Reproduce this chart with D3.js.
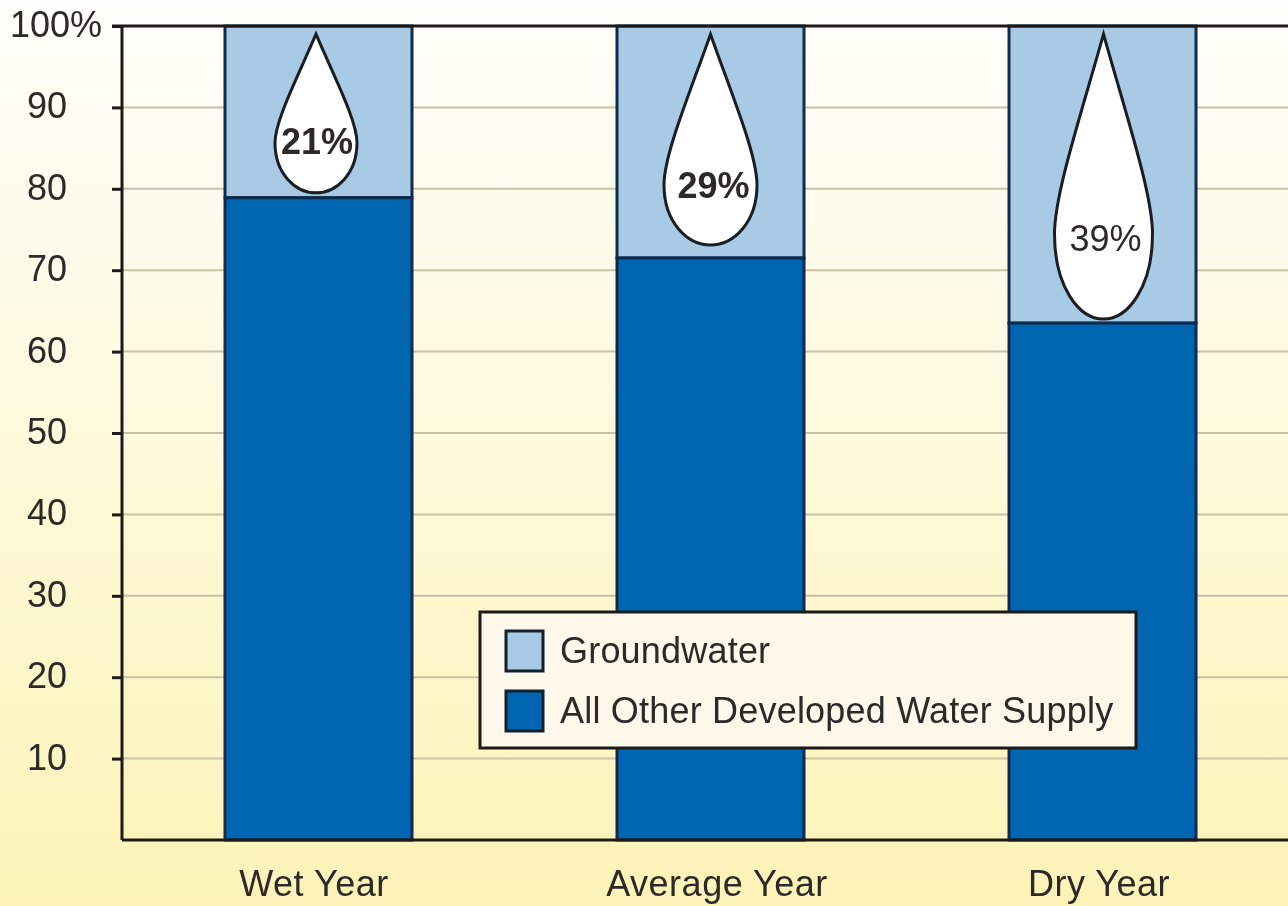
<!DOCTYPE html>
<html>
<head>
<meta charset="utf-8">
<script src="https://cdn.jsdelivr.net/npm/d3@7/dist/d3.min.js"></script>
<style>
html,body{margin:0;padding:0;background:#fdf5c4;overflow:hidden}
svg{display:block;filter:blur(0.7px)}
text{font-family:"Liberation Sans",Arial,sans-serif;font-size:36px;fill:#2b2a26}
</style>
</head>
<body>
<svg id="c" width="1288" height="906"></svg>
<script>
const categories = ["Wet Year", "Average Year", "Dry Year"];
const otherSupply = [78.9, 71.5, 63.5];
const groundwater = [21.1, 28.5, 36.5];
const dropLabels = ["21%", "29%", "39%"];
const yTicks = [10, 20, 30, 40, 50, 60, 70, 80, 90, 100];
const legendLabels = ["Groundwater", "All Other Developed Water Supply"];
const colors = ["#a9cae5", "#0066b1"];

const W = 1288, H = 906;
const svg = d3.select("#c");
const defs = svg.append("defs");
const grad = defs.append("linearGradient").attr("id", "bg").attr("x1", 0).attr("y1", 0).attr("x2", 0).attr("y2", 1);
[["0%", "#fffefa"], ["35%", "#fffbe6"], ["70%", "#fdf6cb"], ["100%", "#fdf3b8"]]
  .forEach(s => grad.append("stop").attr("offset", s[0]).attr("stop-color", s[1]));
svg.append("rect").attr("width", W).attr("height", H).attr("fill", "url(#bg)");

const y = d3.scaleLinear().domain([0, 100]).range([840, 26]);
const x = d3.scaleBand().domain(categories).range([225, 1196]).paddingInner(0.523).paddingOuter(0);

// gridlines
svg.append("g").selectAll("line").data(yTicks.slice(0, -1)).join("line")
  .attr("x1", 122).attr("x2", W).attr("y1", d => y(d)).attr("y2", d => y(d))
  .attr("stroke", "#c8c2a4").attr("stroke-width", 2);

// stacked bars
const barStroke = "#0d2c4d";
const bars = svg.append("g").selectAll("g").data(categories).join("g");
bars.append("rect").attr("x", d => x(d)).attr("width", x.bandwidth())
  .attr("y", (d, i) => y(otherSupply[i] + groundwater[i]))
  .attr("height", (d, i) => y(otherSupply[i]) - y(otherSupply[i] + groundwater[i]))
  .attr("fill", colors[0]).attr("stroke", barStroke).attr("stroke-width", 3);
bars.append("rect").attr("x", d => x(d)).attr("width", x.bandwidth())
  .attr("y", (d, i) => y(otherSupply[i]))
  .attr("height", (d, i) => y(0) - y(otherSupply[i]))
  .attr("fill", colors[1]).attr("stroke", barStroke).attr("stroke-width", 3);

// water drops: nearly straight sides from the tip, round belly at the base
function dropPath(cx, top, bottom, hw, belly) {
  const wy = bottom - belly;
  const s = wy - top;
  return `M${cx},${top}` +
    `C${cx - hw * 0.48},${top + s * 0.42} ${cx - hw},${wy - s * 0.2} ${cx - hw},${wy}` +
    `C${cx - hw},${wy + belly * 0.62} ${cx - hw * 0.5},${bottom} ${cx},${bottom}` +
    `C${cx + hw * 0.5},${bottom} ${cx + hw},${wy + belly * 0.62} ${cx + hw},${wy}` +
    `C${cx + hw},${wy - s * 0.2} ${cx + hw * 0.48},${top + s * 0.42} ${cx},${top}Z`;
}
const dropWidths = [41, 46.5, 49];
const dropNudge = [-2.5, 0, 1];
const dropGap = [5, 13, 4];
const dropBelly = [50, 60, 85];
const dropTextDx = [1, 3, 2];
const dropTextUp = [51, 60, 81];
const dropWeights = [700, 700, 400];
const drops = svg.append("g").selectAll("g").data(categories).join("g");
const cx = (d, i) => x(d) + x.bandwidth() / 2 + dropNudge[i];
const base = i => y(otherSupply[i]) - dropGap[i];
drops.append("path")
  .attr("d", (d, i) => dropPath(cx(d, i), y(99), base(i), dropWidths[i], dropBelly[i]))
  .attr("fill", "#fff").attr("stroke", "#1a1d22").attr("stroke-width", 3).attr("stroke-linejoin", "miter");
drops.append("text")
  .attr("x", (d, i) => cx(d, i) + dropTextDx[i])
  .attr("y", (d, i) => base(i) - dropTextUp[i])
  .attr("dy", "0.35em").attr("text-anchor", "middle")
  .style("font-size", "36px").style("font-weight", (d, i) => dropWeights[i])
  .text((d, i) => dropLabels[i]);

// axes
const yAxis = d3.axisLeft(y).tickValues(yTicks).tickSize(10).tickPadding(0)
  .tickFormat(d => d === 100 ? "100%" : d);
const gy = svg.append("g").attr("transform", "translate(122,0)").call(yAxis);
gy.select(".domain").remove();
gy.selectAll("line").attr("stroke", "#1c1b18").attr("stroke-width", 3);
gy.selectAll("text")
  .attr("x", d => d === 100 ? -20 : -55)
  .attr("dy", "0.29em")
  .style("font-size", "36px").style("font-family", '"Liberation Sans",Arial,sans-serif').attr("fill", "#2b2a26");

svg.append("line").attr("x1", 122).attr("x2", 122).attr("y1", y(100)).attr("y2", y(0)).attr("stroke", "#1c1b18").attr("stroke-width", 3);
svg.append("line").attr("x1", 112).attr("x2", W).attr("y1", y(100)).attr("y2", y(100)).attr("stroke", "#1c1b18").attr("stroke-width", 3);
svg.append("line").attr("x1", 122).attr("x2", W).attr("y1", y(0)).attr("y2", y(0)).attr("stroke", "#1c1b18").attr("stroke-width", 3);

// category labels
const labelNudge = [-4.5, 6.5, -3.5];
svg.append("g").selectAll("text").data(categories).join("text")
  .attr("x", (d, i) => x(d) + x.bandwidth() / 2 + labelNudge[i])
  .attr("y", 896).attr("text-anchor", "middle")
  .style("letter-spacing", "0.5px").text(d => d);

// legend
const lg = svg.append("g").attr("transform", "translate(480,612)");
lg.append("rect").attr("width", 656).attr("height", 136).attr("fill", "#fdf8ea").attr("stroke", "#1c1b18").attr("stroke-width", 3);
const items = lg.selectAll("g").data(legendLabels).join("g").attr("transform", (d, i) => `translate(0,${19 + i * 60})`);
items.append("rect").attr("x", 26).attr("width", 37).attr("height", 40)
  .attr("fill", (d, i) => colors[i]).attr("stroke", "#13202e").attr("stroke-width", 3);
items.append("text").attr("x", 80).attr("y", 32).style("letter-spacing", "0.2px").text(d => d);
</script>
</body>
</html>
